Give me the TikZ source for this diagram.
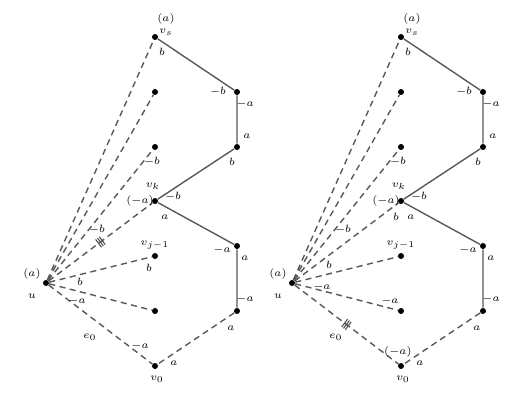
\documentclass[tikz,border=0pt]{standalone}
\usetikzlibrary{decorations.markings}
\begin{document}
\begin{tikzpicture}[x=0.02cm, y=-0.02cm,
  every node/.style={font=\fontsize{6.2}{7}\selectfont, inner sep=1pt},
  dot/.style={circle, fill=black, inner sep=0pt, minimum size=0.12cm},
  edge/.style={draw=black!65, line width=0.8pt},
  dashedge/.style={edge, dash pattern=on 3.5pt off 2.5pt},
  triple tick/.style={postaction={decorate, decoration={markings, mark=at position #1 with {
    \draw[black!70, line width=0.6pt] (-1.3pt,-2.8pt) -- (-1.3pt,2.8pt) (0pt,-2.8pt) -- (0pt,2.8pt) (1.3pt,-2.8pt) -- (1.3pt,2.8pt);}}}}
]
\useasboundingbox (0,0) rectangle (530,402);

% the two copies of the same graph
\foreach \side/\dx in {L/0, R/246} {
  \begin{scope}[xshift=\dx*0.02cm, name prefix=\side-]
    \node[dot] (u)  at (46,283) {};
    \node[dot] (vs) at (155,37) {};
    \node[dot] (w1) at (155,92) {};
    \node[dot] (w2) at (155,147) {};
    \node[dot] (vk) at (155,201) {};
    \node[dot] (vj) at (155,256) {};
    \node[dot] (w3) at (155,311) {};
    \node[dot] (v0) at (155,366) {};
    \node[dot] (p1) at (237,92) {};
    \node[dot] (p2) at (237,147) {};
    \node[dot] (p3) at (237,246) {};
    \node[dot] (p4) at (237,311) {};
    % path and fan
    \draw[edge] (vs) -- (p1) -- (p2) -- (vk) -- (p3) -- (p4);
    \draw[dashedge] (p4) -- (v0);
    \foreach \t in {vs,w1,w2,vk,vj,w3,v0}
      \draw[dashedge] (u) -- (\t);
    % labels shared by both
    \foreach \x/\y/\txt in {166/19/(a), 166/32/v_s, 162/52/b, 218/92/-b, 245/104/-a,
        247/136/a, 232/162/b, 152/162/-b, 153/186/v_k, 140/201/(-a), 173/197/-b,
        165/217/a, 222/250/-a, 245/258/a, 245/299/-a, 231/328/a, 174/363/a,
        157/379/v_0, 90/337/e_0, 155/245/v_{j-1}, 97/230/-b, 32/274/(a), 32/296/u}
      \node (lab-\x-\y) at (\x,\y) {$\txt$};
  \end{scope}
}

% left copy
\begin{scope}[name prefix=L-]
  \path[triple tick=0.5] (u) -- (vk);
  \foreach \x/\y/\txt in {140/346/-a, 77/301/-a, 80/282/b, 149/268/b}
    \node (lab-\x-\y) at (\x,\y) {$\txt$};
\end{scope}

% right copy
\begin{scope}[xshift=4.92cm, name prefix=R-]
  \path[triple tick=0.5] (u) -- (v0);
  \foreach \x/\y/\txt in {150/217/b, 152/352/(-a), 76/287/-a, 144/301/-a, 83/265/b}
    \node (lab-\x-\y) at (\x,\y) {$\txt$};
\end{scope}
\end{tikzpicture}
\end{document}
